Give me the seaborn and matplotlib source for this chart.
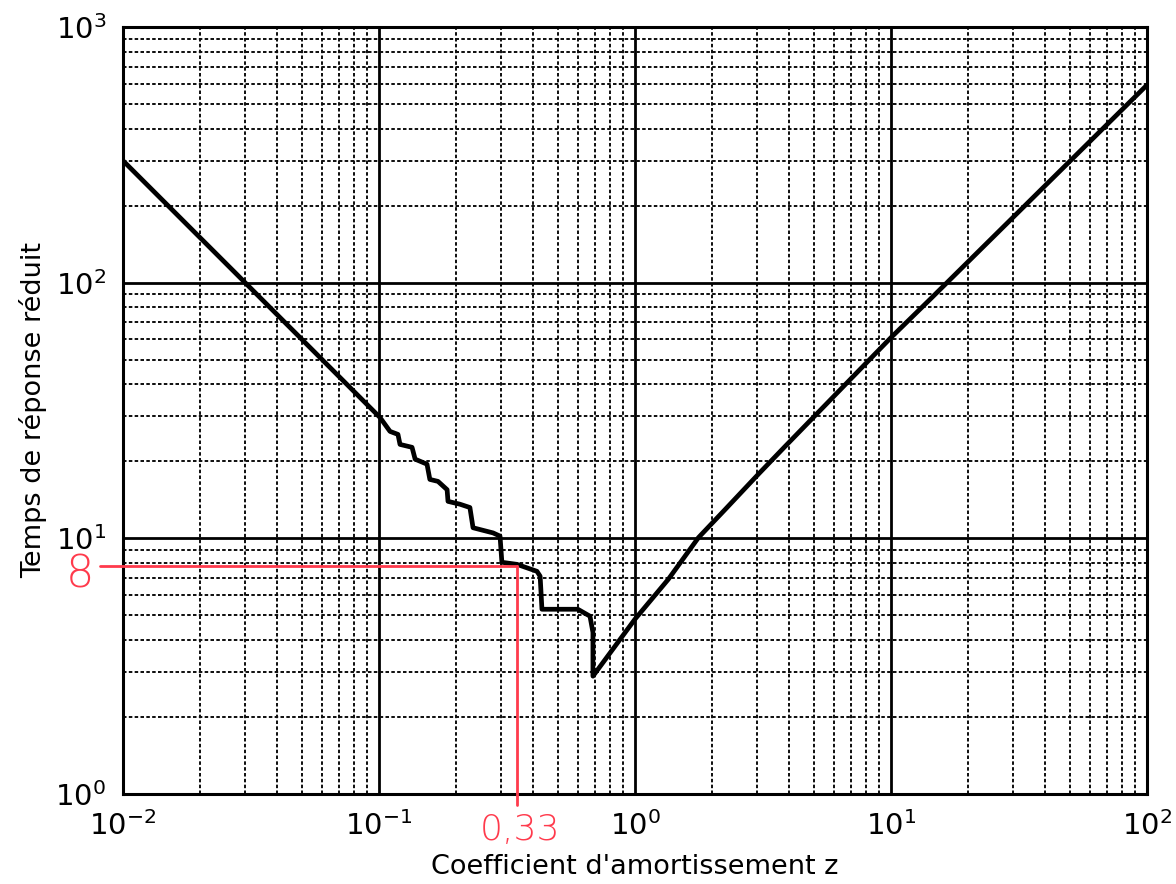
import matplotlib
matplotlib.use("Agg")
import matplotlib.pyplot as plt
import seaborn as sns
import numpy as np
from matplotlib.ticker import LogLocator

# ---- data ----
z_vals = [0.01, 0.03, 0.0686, 0.1009, 0.1104, 0.1186, 0.1208, 0.1346, 0.1384,
          0.154, 0.158, 0.170, 0.1845, 0.186, 0.207, 0.2265, 0.233, 0.279,
          0.297, 0.302, 0.346, 0.414, 0.426, 0.433, 0.598, 0.667, 0.685,
          0.685, 1.0, 1.35, 1.77, 2.25, 3.03, 3.86, 10.0, 14.2, 100.0]
t_vals = [300, 100, 43.7, 29.7, 26.2, 25.5, 23.3, 22.7, 20.4,
          19.5, 17.0, 16.7, 15.5, 13.95, 13.6, 13.2, 11.0, 10.5,
          10.2, 8.06, 7.91, 7.43, 7.11, 5.28, 5.28, 4.96, 4.29,
          2.89, 4.83, 6.92, 10.07, 12.97, 17.8, 22.9, 61, 86, 593]

x_read = 0.345      # red reading line ("0,33")
y_read = 7.8        # red reading line ("8")
x_label_read = "0,33"
y_label_read = "8"

xlabel = "Coefficient d'amortissement z"
ylabel = "Temps de réponse réduit"

sns.set_style("white")
plt.rcParams['font.family'] = ['DejaVu Sans']
plt.rcParams['mathtext.fontset'] = 'dejavusans'
plt.rcParams['text.color'] = 'black'
plt.rcParams['axes.labelcolor'] = 'black'

fig = plt.figure(figsize=(11.76, 8.84), dpi=100)
ax = fig.add_axes([123/1176, 1 - 794/884, (1147-123)/1176, (794-27)/884])

sns.lineplot(x=z_vals, y=t_vals, sort=False, estimator=None, color='black',
             linewidth=3.4, ax=ax, zorder=5)
ax.lines[0].set_solid_joinstyle('round')

ax.set_xscale('log')
ax.set_yscale('log')
ax.set_xlim(1e-2, 1e2)
ax.set_ylim(1e0, 1e3)

ax.xaxis.set_major_locator(LogLocator(base=10, numticks=10))
ax.yaxis.set_major_locator(LogLocator(base=10, numticks=10))
ax.xaxis.set_minor_locator(LogLocator(base=10, subs=np.arange(2, 10), numticks=100))
ax.yaxis.set_minor_locator(LogLocator(base=10, subs=np.arange(2, 10), numticks=100))

ax.grid(True, which='major', color='black', linestyle='-', linewidth=2.0, zorder=1)
ax.grid(True, which='minor', color='0.05', linestyle=(0, (1.8, 1.2)), linewidth=1.4, zorder=1)
ax.set_axisbelow(True)

for s in ax.spines.values():
    s.set_color('black')
    s.set_linewidth(2.2)

ax.tick_params(which='major', direction='out', length=7, width=2.0,
               labelsize=21, pad=5, colors='black', labelcolor='black')
ax.tick_params(which='minor', direction='out', length=4.5, width=1.5, colors='black')

ax.set_xlabel(xlabel, fontsize=19.5, labelpad=10, color='black')
ax.set_ylabel(ylabel, fontsize=19.5, labelpad=6, color='black')

red = '#ff3a4c'
ax.plot([0.00813, x_read], [y_read, y_read], color=red, linewidth=2.0,
        clip_on=False, zorder=6)
ax.plot([x_read, x_read], [0.905, y_read], color=red, linewidth=2.0,
        clip_on=False, zorder=6)
ax.text(0.0068, 7.2, y_label_read, color=red, fontsize=32, ha='center', va='center',
        fontweight='light')
ax.text(x_read * 1.03, 0.72, x_label_read, color=red, fontsize=26, ha='center',
        va='center', fontweight='light')

fig.savefig('out.png', dpi=100, facecolor='white')
